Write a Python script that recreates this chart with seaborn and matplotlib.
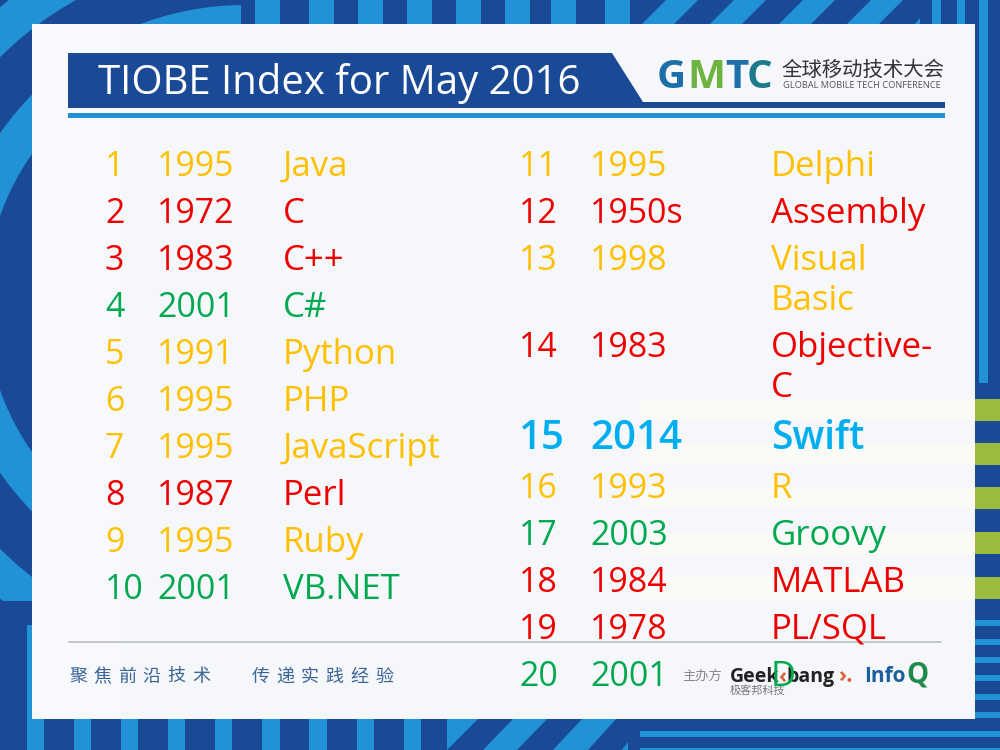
import matplotlib
matplotlib.use("Agg")
import matplotlib.pyplot as plt
from matplotlib.patches import Polygon, Rectangle, Wedge
import seaborn as sns

# Table data
ranks_left = [1, 2, 3, 4, 5, 6, 7, 8, 9, 10]
years_left = ["1995", "1972", "1983", "2001", "1991", "1995", "1995", "1987", "1995", "2001"]
names_left = ["Java", "C", "C++", "C#", "Python", "PHP", "JavaScript", "Perl", "Ruby", "VB.NET"]
groups_left = ["y", "r", "r", "g", "y", "y", "y", "r", "y", "g"]

ranks_right = [11, 12, 13, 14, 15, 16, 17, 18, 19, 20]
years_right = ["1995", "1950s", "1998", "1983", "2014", "1993", "2003", "1984", "1978", "2001"]
names_right = ["Delphi", "Assembly", "Visual\nBasic", "Objective-\nC", "Swift", "R", "Groovy", "MATLAB", "PL/SQL", "D"]
groups_right = ["y", "r", "y", "r", "b", "y", "g", "r", "r", "g"]

colors = {"y": "#FFC000", "r": "#EE0000", "g": "#00A850", "b": "#00AEEF"}
NAVY = "#1A4A96"
SKY = "#2192D6"
GREEN = "#9BBB3C"
PANEL = "#F6F7FB"
CJK = ["Noto Sans CJK SC", "DejaVu Sans"]
LATIN = ["Open Sans", "DejaVu Sans"]

sns.set_theme(style="white")
plt.rcParams["font.family"] = LATIN

fig = plt.figure(figsize=(10, 7.5), dpi=100)
ax = fig.add_axes([0, 0, 1, 1])
ax.set_xlim(0, 1000)
ax.set_ylim(750, 0)
ax.axis("off")


def rect(x, y, w, h, color, z=1):
    ax.add_patch(Rectangle((x, y), w, h, fc=color, lw=0, zorder=z))


def poly(points, color, z=1):
    ax.add_patch(Polygon(points, fc=color, lw=0, zorder=z))


# background
rect(0, 0, 1000, 750, NAVY, 0)
arc_clip = Rectangle((0, 0), 241, 601, transform=ax.transData)
for outer, width in [(384, 37), (298, 38)]:
    ring = Wedge((245, 303), outer, 0, 360, width=width, fc=SKY, lw=0, zorder=1)
    ax.add_patch(ring)
    ring.set_clip_path(arc_clip)

# top stripes
for x in [255, 309, 358, 407, 456, 505, 551, 605]:
    rect(x, 0, 25, 26, SKY)
for x in [640, 708, 777, 845]:
    poly([(x, 26), (x + 26, 0), (x + 58, 0), (x + 32, 26)], SKY)
poly([(913, 26), (920, 18), (920, 26)], SKY)
rect(932, 0, 9, 26, SKY)
rect(957, 0, 8, 26, SKY)
rect(979, 0, 9, 383, SKY)

# right side
for y in [399, 443, 487, 532, 577]:
    rect(975, y, 25, 22, GREEN)
for y in [620, 639, 657, 675, 694, 712]:
    rect(975, y, 25, 6, SKY)

# bottom stripes
rect(27, 625, 5, 94, SKY)
for x, w in [(27, 17), (74, 17), (121, 17), (168, 17), (215, 17), (262, 18), (309, 18), (357, 17), (404, 17)]:
    rect(x, 719, w, 31, SKY)
poly([(447, 719), (478, 719), (447, 750)], SKY)
poly([(513, 719), (547, 719), (517, 750), (483, 750)], SKY)
poly([(582, 719), (616, 719), (588, 750), (553, 750)], SKY)
poly([(628, 742), (628, 750), (622, 750)], SKY)
rect(640, 731, 360, 6, SKY)
rect(640, 748, 360, 2, SKY)

# panel with its faint bands
rect(32, 24, 943, 695, PANEL, 3)
rect(32, 24, 90, 695, "#F8F9FD", 3)
for y in [399, 443, 487, 532, 577]:
    rect(640, y, 335, 22, "#FAFAF7", 3)

# title band and logo
poly([(68, 53), (612, 53), (643, 102), (945, 102), (945, 108), (68, 108)], NAVY, 4)
rect(68, 113, 877, 5, SKY, 4)
ax.text(98, 84, "TIOBE Index for May 2016", color="white", fontsize=28.9, va="center", zorder=5)
logo_letters = ["G", "M", "T", "C"]
logo_xs = [657, 687, 725, 747]
logo_colors = ["#1C6FA8", "#6DB33F", "#1C6FA8", "#1C7A8A"]
for letter, x, c in zip(logo_letters, logo_xs, logo_colors):
    ax.text(x, 78, letter, color=c, fontsize=29, fontweight="bold", va="center", zorder=5)
ax.text(782, 70, "全球移动技术大会", color="#333333", fontsize=14.7, family=CJK, va="center", zorder=5)
ax.text(783, 86, "GLOBAL MOBILE TECH CONFERENCE", color="#555555", fontsize=6.7, va="center", zorder=5)

# footer
ax.plot([69, 941], [642, 642], color="#BBBEC4", lw=1.2, zorder=4)
for start, slogan in [(69, "聚焦前沿技术"), (252, "传递实践经验")]:
    for i, ch in enumerate(slogan):
        ax.text(start + i * 24.6, 677, ch, color="#3A6496", fontsize=13, family=CJK, va="center", zorder=5)
ax.text(682, 676, "主办方", color="#888888", fontsize=9.5, family=CJK, va="center", zorder=5)
ax.text(730, 677, "Geek", color="#222222", fontsize=14, fontweight="bold", va="center", zorder=5)
ax.text(778, 677, "‹", color="#D9663A", fontsize=16, fontweight="bold", va="center", zorder=5)
ax.text(787, 677, "bang", color="#222222", fontsize=14, fontweight="bold", va="center", zorder=5)
ax.text(838, 677, "›.", color="#D9663A", fontsize=16, fontweight="bold", va="center", zorder=5)
ax.text(730, 691, "极客邦科技", color="#777777", fontsize=8, family=CJK, va="center", zorder=5)
ax.text(864, 676, "Info", color="#1C5FA0", fontsize=15, fontweight="bold", va="center", zorder=5)
ax.text(906, 675, "Q", color="#1E8A4C", fontsize=20, fontweight="bold", va="center", zorder=5)


def draw_rows(ranks, years, names, groups, xs, y):
    for rank, year, name, group in zip(ranks, years, names, groups):
        big = group == "b"
        c = colors[group]
        if big:
            y += 4
        num_size, name_size, weight = (29, 28, "semibold") if big else (24.4, 25, "normal")
        ax.text(xs[0], y, str(rank), color=c, fontsize=num_size, fontweight=weight, va="center", zorder=6)
        ax.text(xs[1], y, year, color=c, fontsize=num_size, fontweight=weight, va="center", zorder=6)
        lines = name.split("\n")
        for i, line in enumerate(lines):
            ax.text(xs[2], y + i * 40, line, color=c, fontsize=name_size, fontweight=weight, va="center", zorder=6)
        y += 47 + 40 * (len(lines) - 1)
        if big:
            y += 3


draw_rows(ranks_left, years_left, names_left, groups_left, (105, 157, 283), 167)
draw_rows(ranks_right, years_right, names_right, groups_right, (519, 590, 771), 167)
fig.savefig("out.png", dpi=100)
